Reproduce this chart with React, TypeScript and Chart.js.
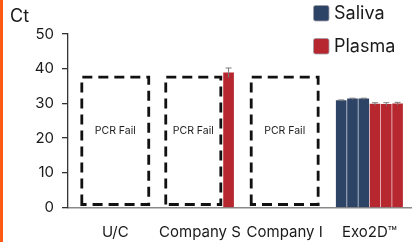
import React, { useEffect, useRef } from 'react';
import { Chart, registerables } from 'chart.js';

Chart.register(...registerables);

// ---------- data ----------
const categories = ['U/C', 'Company S', 'Company I', 'Exo2D™'];
const salivaCt: number[][] = [[], [], [], [30.8, 31.3, 31.3]];
const salivaErr: number[][] = [[], [], [], [0.2, 0.2, 0.2]];
const plasmaCt: number[][] = [[], [38.8], [], [29.8, 29.7, 29.9]];
const plasmaErr: number[][] = [[], [1.4], [], [0.4, 0.5, 0.4]];
const pcrFailed = [true, true, true, false];
const pcrFailCt = 37.6;
const yTicks = [0, 10, 20, 30, 40, 50];

// ---------- layout (x units) ----------
const X_MIN = -0.558;
const X_MAX = 3.503;
const SLOT = 0.133;
const BOX_SOLO = 0.79;
const BOX_SHARED = 0.65;
const BOX_GAP = 0.025;

const FONT = 'Inter, "Liberation Sans", Arial, sans-serif';
const SALIVA = '#2d4467';
const PLASMA = '#b7272f';

function groupLayout(i: number) {
  const nBars = salivaCt[i].length + plasmaCt[i].length;
  const boxW = pcrFailed[i] ? (nBars ? BOX_SHARED : BOX_SOLO) : 0;
  const gap = pcrFailed[i] && nBars ? BOX_GAP : 0;
  const total = boxW + gap + nBars * SLOT;
  const start = i - total / 2;
  const box = pcrFailed[i] ? [start, start + boxW] : null;
  const barStart = start + boxW + gap;
  const xs: number[] = [];
  for (let k = 0; k < nBars; k++) xs.push(barStart + k * SLOT + SLOT / 2);
  return {
    box,
    saliva: xs.slice(0, salivaCt[i].length),
    plasma: xs.slice(salivaCt[i].length),
  };
}

const layouts = categories.map((_, i) => groupLayout(i));

function buildSeries(vals: number[][], errs: number[][], key: 'saliva' | 'plasma') {
  const data: { x: number; y: number }[] = [];
  const e: number[] = [];
  vals.forEach((arr, i) => {
    arr.forEach((v, k) => {
      data.push({ x: layouts[i][key][k], y: v });
      e.push(errs[i][k]);
    });
  });
  return { data, e };
}

const errorBarPlugin = {
  id: 'errorBars',
  afterDatasetsDraw(chart: any) {
    const { ctx } = chart;
    const y = chart.scales.y;
    chart.data.datasets.forEach((ds: any, di: number) => {
      const meta = chart.getDatasetMeta(di);
      meta.data.forEach((el: any, j: number) => {
        const v = ds.data[j].y;
        const e = ds.errors[j];
        const top = y.getPixelForValue(v + e);
        const bot = y.getPixelForValue(v - e);
        ctx.save();
        ctx.strokeStyle = '#7a7a7a';
        ctx.lineWidth = 1;
        ctx.beginPath();
        ctx.moveTo(el.x, top);
        ctx.lineTo(el.x, bot);
        ctx.moveTo(el.x - 3, top);
        ctx.lineTo(el.x + 3, top);
        ctx.stroke();
        ctx.restore();
      });
    });
  },
};

const failBoxPlugin = {
  id: 'failBoxes',
  afterDatasetsDraw(chart: any) {
    const { ctx } = chart;
    const x = chart.scales.x;
    const y = chart.scales.y;
    layouts.forEach((lay) => {
      if (!lay.box) return;
      const l = x.getPixelForValue(lay.box[0]);
      const r = x.getPixelForValue(lay.box[1]);
      const t = y.getPixelForValue(pcrFailCt);
      const b = y.getPixelForValue(0) - 3;
      ctx.save();
      ctx.strokeStyle = '#111';
      ctx.lineWidth = 2.8;
      ctx.setLineDash([10, 6]);
      ctx.beginPath();
      ctx.moveTo(l, b);
      ctx.lineTo(l, t);
      ctx.lineTo(r, t);
      ctx.lineTo(r, b);
      ctx.closePath();
      ctx.stroke();
      ctx.setLineDash([]);
      ctx.fillStyle = '#222';
      ctx.font = `10.5px ${FONT}`;
      ctx.textAlign = 'center';
      ctx.textBaseline = 'middle';
      ctx.fillText('PCR Fail', (l + r) / 2, y.getPixelForValue(22));
      ctx.restore();
    });
  },
};

const decorPlugin = {
  id: 'decor',
  afterDraw(chart: any) {
    const { ctx } = chart;
    ctx.save();
    ctx.fillStyle = '#1a1a1a';
    ctx.font = `18px ${FONT}`;
    ctx.textAlign = 'left';
    ctx.textBaseline = 'middle';
    ctx.fillText('Ct', 10, 17);
    chart.data.datasets.forEach((ds: any, i: number) => {
      const top = 5 + i * 33;
      ctx.fillStyle = ds.backgroundColor;
      ctx.strokeStyle = 'rgba(160,160,170,0.8)';
      ctx.lineWidth = 1;
      ctx.beginPath();
      (ctx as any).roundRect ? (ctx as any).roundRect(313.5, top + 0.5, 15.5, 15.5, 2) : ctx.rect(313.5, top + 0.5, 15.5, 15.5);
      ctx.fill();
      ctx.stroke();
      ctx.fillStyle = '#1a1a1a';
      ctx.font = `18px ${FONT}`;
      ctx.fillText(ds.label, 334, top + 9);
    });
    ctx.restore();
  },
};

export default function App() {
  const ref = useRef<HTMLCanvasElement>(null);
  useEffect(() => {
    if (!ref.current) return;
    const s = buildSeries(salivaCt, salivaErr, 'saliva');
    const p = buildSeries(plasmaCt, plasmaErr, 'plasma');
    const chart = new Chart(ref.current, {
      type: 'bar',
      data: {
        datasets: [
          { label: 'Saliva', data: s.data, errors: s.e, backgroundColor: SALIVA, barThickness: 10, grouped: false } as any,
          { label: 'Plasma', data: p.data, errors: p.e, backgroundColor: PLASMA, barThickness: 10, grouped: false } as any,
        ],
      },
      options: {
        animation: false,
        responsive: false,
        devicePixelRatio: 1,
        events: [],
        layout: { padding: { top: 34, left: 0, right: 0, bottom: 0 } },
        plugins: { legend: { display: false }, tooltip: { enabled: false }, title: { display: false } },
        scales: {
          x: {
            type: 'linear',
            min: X_MIN,
            max: X_MAX,
            bounds: 'data',
            offset: false,
            grid: { display: false },
            border: { display: true, color: '#8a8a8a', width: 1.5 },
            afterBuildTicks: (a: any) => {
              a.ticks = categories.map((_, i) => ({ value: i }));
            },
            afterFit: (a: any) => {
              a.height = 34.5;
            },
            ticks: {
              autoSkip: false,
              maxRotation: 0,
              padding: 8,
              color: '#1a1a1a',
              font: { family: FONT, size: 15 },
              callback: (_v: any, i: number) => categories[i],
            },
          },
          y: {
            min: 0,
            max: 50,
            grid: { display: true, drawOnChartArea: false, drawTicks: true, tickLength: 6, color: '#333', lineWidth: 1.3 },
            border: { display: true, color: '#333', width: 1.3 },
            afterBuildTicks: (a: any) => {
              a.ticks = yTicks.map((v) => ({ value: v }));
            },
            afterFit: (a: any) => {
              a.width = 68;
            },
            ticks: {
              padding: 8,
              color: '#1a1a1a',
              font: { family: FONT, size: 15 },
            },
          },
        },
      } as any,
      plugins: [errorBarPlugin, failBoxPlugin, decorPlugin],
    });
    return () => chart.destroy();
  }, []);

  return (
    <div style={{ position: 'absolute', left: 0, top: 0, width: 412, height: 242, background: '#fff', overflow: 'hidden' }}>
      <canvas ref={ref} width={412} height={242} style={{ display: 'block', width: 412, height: 242 }} />
      <div style={{ position: 'absolute', left: 0, top: 0, width: 3, height: 242, background: '#ff5a14' }} />
    </div>
  );
}
